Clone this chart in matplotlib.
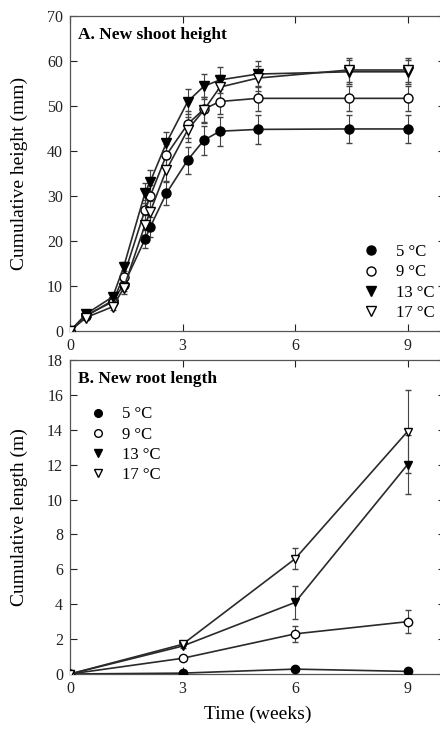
import matplotlib
matplotlib.use("Agg")
import matplotlib.pyplot as plt
from matplotlib.lines import Line2D

plt.rcParams['font.family'] = ['Liberation Serif', 'DejaVu Serif']
plt.rcParams['mathtext.fontset'] = 'stix'

# ---- Panel A data: new shoot height (mm) ----
weeks_a = [0, 0.43, 1.14, 1.43, 2.0, 2.14, 2.57, 3.14, 3.57, 4.0, 5.0, 7.43, 9.0]
h5 = [0, 3.3, 6.8, 10.2, 20.4, 23.1, 30.6, 38.0, 42.4, 44.4, 44.8, 44.9, 44.9]
h9 = [0, 3.5, 6.5, 12.1, 26.9, 30.0, 39.1, 46.0, 49.3, 51.0, 51.7, 51.7, 51.7]
h13 = [0, 3.8, 7.6, 14.2, 30.7, 33.2, 41.8, 51.0, 54.4, 55.8, 57.1, 57.6, 57.6]
h17 = [0, 3.0, 5.4, 9.5, 23.6, 26.5, 35.8, 44.7, 49.1, 54.2, 56.2, 58.0, 58.0]
e5 = [0, 0.5, 0.8, 1.2, 2.0, 2.2, 2.5, 3.0, 3.2, 3.2, 3.2, 3.2, 3.2]
e9 = [0, 0.5, 0.8, 1.2, 2.2, 2.5, 2.5, 3.0, 2.8, 2.8, 2.8, 2.8, 2.8]
e13 = [0, 0.5, 0.8, 1.2, 2.2, 2.5, 2.5, 2.8, 2.8, 2.8, 2.8, 2.7, 2.7]
e17 = [0, 0.5, 0.8, 1.2, 2.2, 2.5, 2.5, 2.8, 2.8, 2.8, 2.8, 2.7, 2.7]

# ---- Panel B data: new root length (m) ----
weeks_b = [0, 3, 6, 9]
r5 = [0, 0.05, 0.28, 0.15]
r9 = [0, 0.9, 2.3, 3.0]
r13 = [0, 1.6, 4.1, 12.0]
r17 = [0, 1.7, 6.6, 13.9]
re5 = [0, 0.03, 0.08, 0.06]
re9 = [0, 0.1, 0.45, 0.65]
re13 = [0, 0.12, 0.95, 1.7]
re17 = [0, 0.12, 0.6, 2.4]

labels = ['5 \u00b0C', '9 \u00b0C', '13 \u00b0C', '17 \u00b0C']
markers = ['o', 'o', 'v', 'v']
faces = ['black', 'white', 'black', 'white']

W, H = 440, 730
fig = plt.figure(figsize=(W / 100, H / 100), dpi=100)

def px_axes(x0, y0, x1, y1):
    return fig.add_axes([x0 / W, 1 - y1 / H, (x1 - x0) / W, (y1 - y0) / H])

axA = px_axes(70, 16, 445, 331)
axB = px_axes(70, 360, 445, 674)

lc = '#2a2a2a'

def draw(ax, xs, ys_list, es_list, ms):
    for ys, es, m, f in zip(ys_list, es_list, markers, faces):
        ax.errorbar(xs, ys, yerr=es, color=lc, lw=1.2, marker=m, ms=ms,
                    mfc=f, mec='black', mew=1.0, ecolor='#444444',
                    elinewidth=0.8, capsize=2.5, capthick=0.8, zorder=3)

draw(axA, weeks_a, [h5, h9, h13, h17], [e5, e9, e13, e17], 6.5)
draw(axB, weeks_b, [r5, r9, r13, r17], [re5, re9, re13, re17], 6)

for ax in (axA, axB):
    ax.set_xlim(0, 10)
    ax.set_xticks([0, 3, 6, 9])
    ax.tick_params(direction='in', top=True, right=True, length=5, width=0.8,
                   labelsize=11.5, colors='#222222', pad=5)
    for s in ax.spines.values():
        s.set_color('#555555')
        s.set_linewidth(0.9)

axA.set_ylim(0, 70)
axA.set_yticks(range(0, 71, 10))
axB.set_ylim(0, 18)
axB.set_yticks(range(0, 19, 2))

axA.set_ylabel('Cumulative height (mm)', fontsize=14, labelpad=14)
axB.set_ylabel('Cumulative length (m)', fontsize=14, labelpad=14)
axB.set_xlabel('Time (weeks)', fontsize=14, labelpad=6)

axA.text(0.022, 0.965, 'A. New shoot height', transform=axA.transAxes,
         fontsize=12.5, fontweight='bold', va='top', ha='left')
axB.text(0.022, 0.965, 'B. New root length', transform=axB.transAxes,
         fontsize=12.5, fontweight='bold', va='top', ha='left')

def legend_handles(ms):
    return [Line2D([], [], ls='', marker=m, ms=ms, mfc=f, mec='black', mew=1.0)
            for m, f in zip(markers, faces)]

axA.legend(legend_handles(6.5), labels, loc='lower left',
           bbox_to_anchor=(0.74, -0.015), frameon=False, fontsize=12,
           handlelength=1.0, handletextpad=1.0, labelspacing=0.25)
axB.legend(legend_handles(5.5), labels, loc='upper left',
           bbox_to_anchor=(0.012, 0.90), frameon=False, fontsize=12,
           handlelength=1.0, handletextpad=0.95, labelspacing=0.25)

fig.savefig('out.png', dpi=100)
